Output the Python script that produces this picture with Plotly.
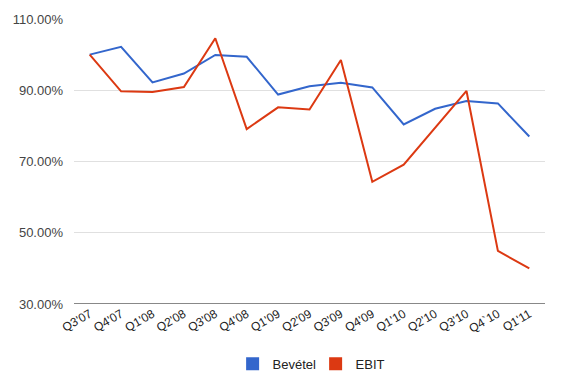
import plotly.graph_objects as go

quarters = ["Q3'07", "Q4'07", "Q1'08", "Q2'08", "Q3'08", "Q4'08", "Q1'09", "Q2'09",
            "Q3'09", "Q4'09", "Q1'10", "Q2'10", "Q3'10", "Q4`10", "Q1'11"]
bevetel = [100.0, 102.2, 92.2, 94.7, 99.9, 99.4, 88.8, 91.1, 92.1, 90.8, 80.4, 84.8, 87.0, 86.3, 77.0]
ebit = [100.0, 89.7, 89.5, 90.9, 104.6, 79.1, 85.2, 84.6, 98.5, 64.3, 69.1, 79.6, 89.8, 44.9, 40.0]
y_ticks = [30, 50, 70, 90, 110]
y_tick_labels = ["30.00%", "50.00%", "70.00%", "90.00%", "110.00%"]

BLUE = "#3366cc"
RED = "#dc3912"

fig = go.Figure()
for name, vals, col in [("Bevétel", bevetel, BLUE), ("EBIT", ebit, RED)]:
    fig.add_trace(go.Scatter(x=quarters, y=vals, mode="lines", name=name,
                             line=dict(color=col, width=2), showlegend=False))
for name, col in [("Bevétel", BLUE), ("EBIT", RED)]:
    fig.add_trace(go.Scatter(x=[None], y=[None], mode="markers", name=name,
                             marker=dict(symbol="square", size=13, color=col)))

fig.update_layout(
    width=561, height=377,
    margin=dict(l=74, r=16, t=19, b=73, autoexpand=False),
    paper_bgcolor="white", plot_bgcolor="white",
    font=dict(family="Arial, Liberation Sans, sans-serif", size=12, color="#444444"),
    legend=dict(orientation="h", x=0.513, xanchor="center", y=-0.21, yanchor="middle",
                font=dict(size=13, color="#222222"), itemwidth=30, tracegroupgap=0,
                entrywidth=38, entrywidthmode="pixels"),
    xaxis=dict(type="category", range=[-0.5, len(quarters) - 0.5], tickangle=-30,
               showgrid=False, ticks="", tickfont=dict(size=12, color="#222222"),
               showline=False, zeroline=False, automargin=False),
    yaxis=dict(range=[30, 110], tickvals=y_ticks, ticktext=y_tick_labels,
               showgrid=True, gridcolor="#e0e0e0", gridwidth=1, zeroline=False,
               showline=False, ticks="", tickfont=dict(size=13, color="#444444"),
               automargin=False, ticklabelstandoff=10),
    shapes=[dict(type="line", xref="paper", yref="y", x0=0, x1=1, y0=30, y1=30,
                 line=dict(color="#888888", width=2))],
)

fig.write_html("out.html", config={"responsive": False, "displayModeBar": False})
with open("out.html", encoding="utf-8") as f:
    html = f.read()
html = html.replace("<head>", "<head><style>html,body{margin:0;padding:0;overflow:hidden;}</style>", 1)
with open("out.html", "w", encoding="utf-8") as f:
    f.write(html)
